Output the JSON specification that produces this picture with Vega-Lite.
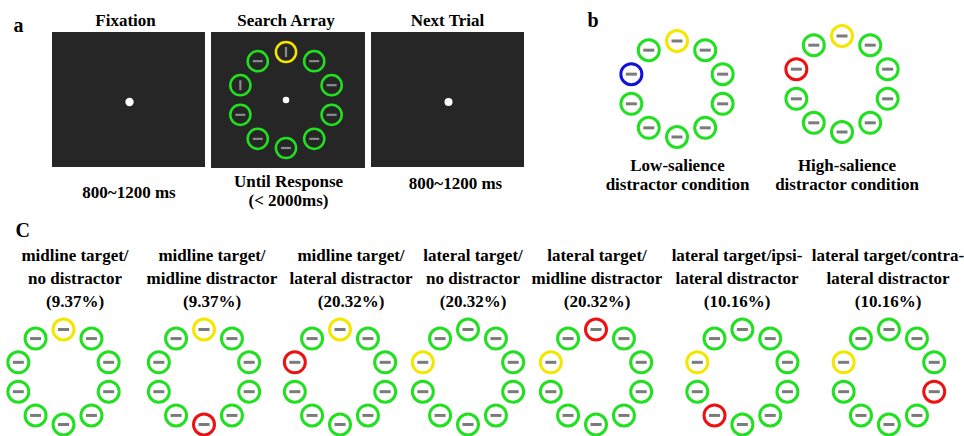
{
"$schema": "https://vega.github.io/schema/vega-lite/v6.json",
"padding": {"left": 1, "top": 10, "right": 0, "bottom": 0},
"background": "#ffffff",
"config": {
 "font": "Liberation Serif",
 "view": {"stroke": null},
 "axis": {"domain": false, "ticks": false, "labels": false, "grid": false, "titleFont": "Liberation Serif", "titleFontSize": 17, "titleFontWeight": "bold", "titleColor": "#000000", "titlePadding": 0},
 "title": {"font": "Liberation Serif", "fontSize": 17, "fontWeight": "bold", "color": "#000000", "frame": "group", "anchor": "middle"}
},
"datasets": {
 "items": [
  {"panel":"a1","pos":-1,"x":0,"y":0,"role":"fixation","bar":"none"},
  {"panel":"a3","pos":-1,"x":0,"y":0,"role":"fixation","bar":"none"},
  {"panel":"a2","pos":-1,"x":0,"y":0,"role":"fixation","bar":"none"},
  {"panel":"a2","pos":0,"x":0,"y":1,"role":"target","bar":"v"},
  {"panel":"a2","pos":1,"x":0.588,"y":0.809,"role":"nontarget","bar":"h"},
  {"panel":"a2","pos":2,"x":0.951,"y":0.309,"role":"nontarget","bar":"h"},
  {"panel":"a2","pos":3,"x":0.951,"y":-0.309,"role":"nontarget","bar":"h"},
  {"panel":"a2","pos":4,"x":0.588,"y":-0.809,"role":"nontarget","bar":"h"},
  {"panel":"a2","pos":5,"x":0,"y":-1,"role":"nontarget","bar":"h"},
  {"panel":"a2","pos":6,"x":-0.588,"y":-0.809,"role":"nontarget","bar":"h"},
  {"panel":"a2","pos":7,"x":-0.951,"y":-0.309,"role":"nontarget","bar":"h"},
  {"panel":"a2","pos":8,"x":-0.951,"y":0.309,"role":"nontarget","bar":"v"},
  {"panel":"a2","pos":9,"x":-0.588,"y":0.809,"role":"nontarget","bar":"h"},
  {"panel":"b1","pos":0,"x":0,"y":1,"role":"target","bar":"h"},
  {"panel":"b1","pos":1,"x":0.588,"y":0.809,"role":"nontarget","bar":"h"},
  {"panel":"b1","pos":2,"x":0.951,"y":0.309,"role":"nontarget","bar":"h"},
  {"panel":"b1","pos":3,"x":0.951,"y":-0.309,"role":"nontarget","bar":"h"},
  {"panel":"b1","pos":4,"x":0.588,"y":-0.809,"role":"nontarget","bar":"h"},
  {"panel":"b1","pos":5,"x":0,"y":-1,"role":"nontarget","bar":"h"},
  {"panel":"b1","pos":6,"x":-0.588,"y":-0.809,"role":"nontarget","bar":"h"},
  {"panel":"b1","pos":7,"x":-0.951,"y":-0.309,"role":"nontarget","bar":"h"},
  {"panel":"b1","pos":8,"x":-0.951,"y":0.309,"role":"lowsal","bar":"h"},
  {"panel":"b1","pos":9,"x":-0.588,"y":0.809,"role":"nontarget","bar":"h"},
  {"panel":"b2","pos":0,"x":0,"y":1,"role":"target","bar":"h"},
  {"panel":"b2","pos":1,"x":0.588,"y":0.809,"role":"nontarget","bar":"h"},
  {"panel":"b2","pos":2,"x":0.951,"y":0.309,"role":"nontarget","bar":"h"},
  {"panel":"b2","pos":3,"x":0.951,"y":-0.309,"role":"nontarget","bar":"h"},
  {"panel":"b2","pos":4,"x":0.588,"y":-0.809,"role":"nontarget","bar":"h"},
  {"panel":"b2","pos":5,"x":0,"y":-1,"role":"nontarget","bar":"h"},
  {"panel":"b2","pos":6,"x":-0.588,"y":-0.809,"role":"nontarget","bar":"h"},
  {"panel":"b2","pos":7,"x":-0.951,"y":-0.309,"role":"nontarget","bar":"h"},
  {"panel":"b2","pos":8,"x":-0.951,"y":0.309,"role":"distractor","bar":"h"},
  {"panel":"b2","pos":9,"x":-0.588,"y":0.809,"role":"nontarget","bar":"h"},
  {"panel":"c1","pos":0,"x":0,"y":1,"role":"target","bar":"h"},
  {"panel":"c1","pos":1,"x":0.588,"y":0.809,"role":"nontarget","bar":"h"},
  {"panel":"c1","pos":2,"x":0.951,"y":0.309,"role":"nontarget","bar":"h"},
  {"panel":"c1","pos":3,"x":0.951,"y":-0.309,"role":"nontarget","bar":"h"},
  {"panel":"c1","pos":4,"x":0.588,"y":-0.809,"role":"nontarget","bar":"h"},
  {"panel":"c1","pos":5,"x":0,"y":-1,"role":"nontarget","bar":"h"},
  {"panel":"c1","pos":6,"x":-0.588,"y":-0.809,"role":"nontarget","bar":"h"},
  {"panel":"c1","pos":7,"x":-0.951,"y":-0.309,"role":"nontarget","bar":"h"},
  {"panel":"c1","pos":8,"x":-0.951,"y":0.309,"role":"nontarget","bar":"h"},
  {"panel":"c1","pos":9,"x":-0.588,"y":0.809,"role":"nontarget","bar":"h"},
  {"panel":"c2","pos":0,"x":0,"y":1,"role":"target","bar":"h"},
  {"panel":"c2","pos":1,"x":0.588,"y":0.809,"role":"nontarget","bar":"h"},
  {"panel":"c2","pos":2,"x":0.951,"y":0.309,"role":"nontarget","bar":"h"},
  {"panel":"c2","pos":3,"x":0.951,"y":-0.309,"role":"nontarget","bar":"h"},
  {"panel":"c2","pos":4,"x":0.588,"y":-0.809,"role":"nontarget","bar":"h"},
  {"panel":"c2","pos":5,"x":0,"y":-1,"role":"distractor","bar":"h"},
  {"panel":"c2","pos":6,"x":-0.588,"y":-0.809,"role":"nontarget","bar":"h"},
  {"panel":"c2","pos":7,"x":-0.951,"y":-0.309,"role":"nontarget","bar":"h"},
  {"panel":"c2","pos":8,"x":-0.951,"y":0.309,"role":"nontarget","bar":"h"},
  {"panel":"c2","pos":9,"x":-0.588,"y":0.809,"role":"nontarget","bar":"h"},
  {"panel":"c3","pos":0,"x":0,"y":1,"role":"target","bar":"h"},
  {"panel":"c3","pos":1,"x":0.588,"y":0.809,"role":"nontarget","bar":"h"},
  {"panel":"c3","pos":2,"x":0.951,"y":0.309,"role":"nontarget","bar":"h"},
  {"panel":"c3","pos":3,"x":0.951,"y":-0.309,"role":"nontarget","bar":"h"},
  {"panel":"c3","pos":4,"x":0.588,"y":-0.809,"role":"nontarget","bar":"h"},
  {"panel":"c3","pos":5,"x":0,"y":-1,"role":"nontarget","bar":"h"},
  {"panel":"c3","pos":6,"x":-0.588,"y":-0.809,"role":"nontarget","bar":"h"},
  {"panel":"c3","pos":7,"x":-0.951,"y":-0.309,"role":"nontarget","bar":"h"},
  {"panel":"c3","pos":8,"x":-0.951,"y":0.309,"role":"distractor","bar":"h"},
  {"panel":"c3","pos":9,"x":-0.588,"y":0.809,"role":"nontarget","bar":"h"},
  {"panel":"c4","pos":0,"x":0,"y":1,"role":"nontarget","bar":"h"},
  {"panel":"c4","pos":1,"x":0.588,"y":0.809,"role":"nontarget","bar":"h"},
  {"panel":"c4","pos":2,"x":0.951,"y":0.309,"role":"nontarget","bar":"h"},
  {"panel":"c4","pos":3,"x":0.951,"y":-0.309,"role":"nontarget","bar":"h"},
  {"panel":"c4","pos":4,"x":0.588,"y":-0.809,"role":"nontarget","bar":"h"},
  {"panel":"c4","pos":5,"x":0,"y":-1,"role":"nontarget","bar":"h"},
  {"panel":"c4","pos":6,"x":-0.588,"y":-0.809,"role":"nontarget","bar":"h"},
  {"panel":"c4","pos":7,"x":-0.951,"y":-0.309,"role":"nontarget","bar":"h"},
  {"panel":"c4","pos":8,"x":-0.951,"y":0.309,"role":"target","bar":"h"},
  {"panel":"c4","pos":9,"x":-0.588,"y":0.809,"role":"nontarget","bar":"h"},
  {"panel":"c5","pos":0,"x":0,"y":1,"role":"distractor","bar":"h"},
  {"panel":"c5","pos":1,"x":0.588,"y":0.809,"role":"nontarget","bar":"h"},
  {"panel":"c5","pos":2,"x":0.951,"y":0.309,"role":"nontarget","bar":"h"},
  {"panel":"c5","pos":3,"x":0.951,"y":-0.309,"role":"nontarget","bar":"h"},
  {"panel":"c5","pos":4,"x":0.588,"y":-0.809,"role":"nontarget","bar":"h"},
  {"panel":"c5","pos":5,"x":0,"y":-1,"role":"nontarget","bar":"h"},
  {"panel":"c5","pos":6,"x":-0.588,"y":-0.809,"role":"nontarget","bar":"h"},
  {"panel":"c5","pos":7,"x":-0.951,"y":-0.309,"role":"nontarget","bar":"h"},
  {"panel":"c5","pos":8,"x":-0.951,"y":0.309,"role":"target","bar":"h"},
  {"panel":"c5","pos":9,"x":-0.588,"y":0.809,"role":"nontarget","bar":"h"},
  {"panel":"c6","pos":0,"x":0,"y":1,"role":"nontarget","bar":"h"},
  {"panel":"c6","pos":1,"x":0.588,"y":0.809,"role":"nontarget","bar":"h"},
  {"panel":"c6","pos":2,"x":0.951,"y":0.309,"role":"nontarget","bar":"h"},
  {"panel":"c6","pos":3,"x":0.951,"y":-0.309,"role":"nontarget","bar":"h"},
  {"panel":"c6","pos":4,"x":0.588,"y":-0.809,"role":"nontarget","bar":"h"},
  {"panel":"c6","pos":5,"x":0,"y":-1,"role":"nontarget","bar":"h"},
  {"panel":"c6","pos":6,"x":-0.588,"y":-0.809,"role":"distractor","bar":"h"},
  {"panel":"c6","pos":7,"x":-0.951,"y":-0.309,"role":"nontarget","bar":"h"},
  {"panel":"c6","pos":8,"x":-0.951,"y":0.309,"role":"target","bar":"h"},
  {"panel":"c6","pos":9,"x":-0.588,"y":0.809,"role":"nontarget","bar":"h"},
  {"panel":"c7","pos":0,"x":0,"y":1,"role":"nontarget","bar":"h"},
  {"panel":"c7","pos":1,"x":0.588,"y":0.809,"role":"nontarget","bar":"h"},
  {"panel":"c7","pos":2,"x":0.951,"y":0.309,"role":"nontarget","bar":"h"},
  {"panel":"c7","pos":3,"x":0.951,"y":-0.309,"role":"distractor","bar":"h"},
  {"panel":"c7","pos":4,"x":0.588,"y":-0.809,"role":"nontarget","bar":"h"},
  {"panel":"c7","pos":5,"x":0,"y":-1,"role":"nontarget","bar":"h"},
  {"panel":"c7","pos":6,"x":-0.588,"y":-0.809,"role":"nontarget","bar":"h"},
  {"panel":"c7","pos":7,"x":-0.951,"y":-0.309,"role":"nontarget","bar":"h"},
  {"panel":"c7","pos":8,"x":-0.951,"y":0.309,"role":"target","bar":"h"},
  {"panel":"c7","pos":9,"x":-0.588,"y":0.809,"role":"nontarget","bar":"h"},
  {"panel":"labels","pos":-1,"x":0,"y":0,"role":"none","bar":"none"}
 ]
},
"columns": 7,
"align": "each",
"bounds": "flush",
"spacing": {"column": 6, "row": 149},
"concat": [
 {"width": 153, "height": 135, "view": {"fill": "#262626"},
  "title": {"text": "Fixation", "offset": 2.5, "dx": -3, "frame": "group"},
  "data": {"name": "items"}, "transform": [{"filter": "datum.panel === 'a1'"}],
  "mark": {"type": "point", "shape": "circle", "filled": true, "size": 70, "color": "#ffffff", "opacity": 1},
  "encoding": {
   "x": {"field": "x", "type": "quantitative", "scale": {"domain": [-1.6146, 1.5729], "nice": false, "zero": false}, "axis": {"title": "800~1200 ms", "titleY": 30, "titleBaseline": "alphabetic"}},
   "y": {"field": "y", "type": "quantitative", "scale": {"domain": [-1.3542, 1.4583], "nice": false, "zero": false}, "axis": null}
  }},
 {"width": 154, "height": 136, "view": {"fill": "#262626"},
  "title": {"text": "Search Array", "offset": 2.5, "dx": -2, "frame": "group"},
  "data": {"name": "items"}, "transform": [{"filter": "datum.panel === 'a2'"}],
  "encoding": {
   "x": {"field": "x", "type": "quantitative", "scale": {"domain": [-1.5625, 1.6458], "nice": false, "zero": false}, "axis": {"title": ["Until Response", "(< 2000ms)"], "titleY": 18, "titleLineHeight": 19, "titleBaseline": "alphabetic"}},
   "y": {"field": "y", "type": "quantitative", "scale": {"domain": [-1.4167, 1.4167], "nice": false, "zero": false}, "axis": null}
  },
  "layer": [
   {"transform": [{"filter": "datum.role !== 'fixation'"}],
    "mark": {"type": "point", "shape": "circle", "filled": false, "size": 408, "strokeWidth": 2.5, "opacity": 1},
    "encoding": {"color": {"field": "role", "type": "nominal", "scale": {"domain": ["target", "nontarget", "distractor", "lowsal"], "range": ["#f5e600", "#20e020", "#ee1111", "#1111dd"]}, "legend": null}}},
   {"transform": [{"filter": "datum.role !== 'fixation'"}],
    "mark": {"type": "point", "shape": "stroke", "size": 100, "strokeWidth": 2.2, "color": "#8a8a8a", "opacity": 1},
    "encoding": {"angle": {"condition": {"test": "datum.bar === 'v'", "value": 90}, "value": 0}}},
   {"transform": [{"filter": "datum.role === 'fixation'"}],
    "mark": {"type": "point", "shape": "circle", "filled": true, "size": 42, "color": "#ffffff", "opacity": 1}}
  ]},
 {"width": 153, "height": 135, "view": {"fill": "#262626"},
  "title": {"text": "Next Trial", "offset": 2.5, "frame": "group"},
  "data": {"name": "items"}, "transform": [{"filter": "datum.panel === 'a3'"}],
  "mark": {"type": "point", "shape": "circle", "filled": true, "size": 64, "color": "#ffffff", "opacity": 1},
  "encoding": {
   "x": {"field": "x", "type": "quantitative", "scale": {"domain": [-1.6146, 1.5729], "nice": false, "zero": false}, "axis": {"title": "800~1200 ms", "titleY": 21, "titleX": 84, "titleBaseline": "alphabetic"}},
   "y": {"field": "y", "type": "quantitative", "scale": {"domain": [-1.3542, 1.4583], "nice": false, "zero": false}, "axis": null}
  }},
 {"width": 207, "height": 120,
  "data": {"name": "items"}, "transform": [{"filter": "datum.panel === 'b1'"}],
  "encoding": {
   "x": {"field": "x", "type": "quantitative", "scale": {"domain": [-3.0625, 1.25], "nice": false, "zero": false}, "axis": {"title": ["Low-salience", "distractor condition"], "titleY": 18, "titleX": 147, "titleLineHeight": 19, "titleBaseline": "alphabetic"}},
   "y": {"field": "y", "type": "quantitative", "scale": {"domain": [-1.3125, 1.1875], "nice": false, "zero": false}, "axis": {"title": "b", "titleAngle": 0, "titleAlign": "left", "titleBaseline": "alphabetic", "titleX": 57, "titleY": -6, "titleFontSize": 20}}
  },
  "layer": [
   {"mark": {"type": "point", "shape": "circle", "filled": false, "size": 441, "strokeWidth": 3, "opacity": 1},
    "encoding": {"color": {"field": "role", "type": "nominal", "scale": {"domain": ["target", "nontarget", "distractor", "lowsal"], "range": ["#f5e600", "#20e020", "#ee1111", "#1111dd"]}, "legend": null}}},
   {"mark": {"type": "point", "shape": "stroke", "size": 121, "strokeWidth": 3, "color": "#7b7b7b", "opacity": 1}}
  ]},
 {"width": 159, "height": 120,
  "data": {"name": "items"}, "transform": [{"filter": "datum.panel === 'b2'"}],
  "encoding": {
   "x": {"field": "x", "type": "quantitative", "scale": {"domain": [-2.0625, 1.25], "nice": false, "zero": false}, "axis": {"title": ["High-salience", "distractor condition"], "titleY": 18, "titleX": 103.5, "titleLineHeight": 19, "titleBaseline": "alphabetic"}},
   "y": {"field": "y", "type": "quantitative", "scale": {"domain": [-1.4167, 1.0833], "nice": false, "zero": false}, "axis": null}
  },
  "layer": [
   {"mark": {"type": "point", "shape": "circle", "filled": false, "size": 441, "strokeWidth": 3, "opacity": 1},
    "encoding": {"color": {"field": "role", "type": "nominal", "scale": {"domain": ["target", "nontarget", "distractor", "lowsal"], "range": ["#f5e600", "#20e020", "#ee1111", "#1111dd"]}, "legend": null}}},
   {"mark": {"type": "point", "shape": "stroke", "size": 121, "strokeWidth": 3, "color": "#7b7b7b", "opacity": 1}}
  ]},
 {"width": 1, "height": 1,
  "data": {"name": "items"}, "transform": [{"filter": "datum.panel === 'labels'"}],
  "mark": {"type": "point", "opacity": 0},
  "encoding": {
   "x": {"field": "x", "type": "quantitative", "axis": {"title": "C", "titleAngle": 0, "titleAlign": "left", "titleBaseline": "alphabetic", "titleX": -893, "titleY": 203, "titleFontSize": 20}},
   "y": {"field": "y", "type": "quantitative", "axis": {"title": "a", "titleAngle": 0, "titleAlign": "left", "titleBaseline": "alphabetic", "titleX": -895, "titleY": -1, "titleFontSize": 20}}
  }},
 {"width": 1, "height": 1, "data": {"values": []}, "mark": "point"},
 {"width": 153, "height": 120,
  "title": {"text": ["midline target/", "no distractor", "(9.37%)"], "offset": 2, "lineHeight": 23, "dx": -53.5, "frame": "group"},
  "data": {"name": "items"}, "transform": [{"filter": "datum.panel === 'c1'"}],
  "encoding": {
   "x": {"field": "x", "type": "quantitative", "scale": {"domain": [-0.2421, 2.9789], "nice": false, "zero": false}, "axis": null},
   "y": {"field": "y", "type": "quantitative", "scale": {"domain": [-1.2632, 1.2632], "nice": false, "zero": false}, "axis": null}
  },
  "layer": [
   {"mark": {"type": "point", "shape": "circle", "filled": false, "size": 441, "strokeWidth": 3, "opacity": 1},
    "encoding": {"color": {"field": "role", "type": "nominal", "scale": {"domain": ["target", "nontarget", "distractor", "lowsal"], "range": ["#f5e600", "#20e020", "#ee1111", "#1111dd"]}, "legend": null}}},
   {"mark": {"type": "point", "shape": "stroke", "size": 121, "strokeWidth": 3, "color": "#7b7b7b", "opacity": 1}}
  ]},
 {"width": 154, "height": 120,
  "title": {"text": ["midline target/", "midline distractor", "(9.37%)"], "offset": 2, "lineHeight": 23, "dx": -76, "frame": "group"},
  "data": {"name": "items"}, "transform": [{"filter": "datum.panel === 'c2'"}],
  "encoding": {
   "x": {"field": "x", "type": "quantitative", "scale": {"domain": [0.1474, 3.3895], "nice": false, "zero": false}, "axis": null},
   "y": {"field": "y", "type": "quantitative", "scale": {"domain": [-1.2632, 1.2632], "nice": false, "zero": false}, "axis": null}
  },
  "layer": [
   {"mark": {"type": "point", "shape": "circle", "filled": false, "size": 441, "strokeWidth": 3, "opacity": 1},
    "encoding": {"color": {"field": "role", "type": "nominal", "scale": {"domain": ["target", "nontarget", "distractor", "lowsal"], "range": ["#f5e600", "#20e020", "#ee1111", "#1111dd"]}, "legend": null}}},
   {"mark": {"type": "point", "shape": "stroke", "size": 121, "strokeWidth": 3, "color": "#7b7b7b", "opacity": 1}}
  ]},
 {"width": 153, "height": 120,
  "title": {"text": ["midline target/", "lateral distractor", "(20.32%)"], "offset": 2, "lineHeight": 23, "dx": -96.5, "frame": "group"},
  "data": {"name": "items"}, "transform": [{"filter": "datum.panel === 'c3'"}],
  "encoding": {
   "x": {"field": "x", "type": "quantitative", "scale": {"domain": [0.6526, 3.8737], "nice": false, "zero": false}, "axis": null},
   "y": {"field": "y", "type": "quantitative", "scale": {"domain": [-1.2632, 1.2632], "nice": false, "zero": false}, "axis": null}
  },
  "layer": [
   {"mark": {"type": "point", "shape": "circle", "filled": false, "size": 441, "strokeWidth": 3, "opacity": 1},
    "encoding": {"color": {"field": "role", "type": "nominal", "scale": {"domain": ["target", "nontarget", "distractor", "lowsal"], "range": ["#f5e600", "#20e020", "#ee1111", "#1111dd"]}, "legend": null}}},
   {"mark": {"type": "point", "shape": "stroke", "size": 121, "strokeWidth": 3, "color": "#7b7b7b", "opacity": 1}}
  ]},
 {"width": 207, "height": 120,
  "title": {"text": ["lateral target/", "no distractor", "(20.32%)"], "offset": 2, "lineHeight": 23, "dx": -160.5, "frame": "group"},
  "data": {"name": "items"}, "transform": [{"filter": "datum.panel === 'c4'"}],
  "encoding": {
   "x": {"field": "x", "type": "quantitative", "scale": {"domain": [1.3053, 5.6632], "nice": false, "zero": false}, "axis": null},
   "y": {"field": "y", "type": "quantitative", "scale": {"domain": [-1.2632, 1.2632], "nice": false, "zero": false}, "axis": null}
  },
  "layer": [
   {"mark": {"type": "point", "shape": "circle", "filled": false, "size": 441, "strokeWidth": 3, "opacity": 1},
    "encoding": {"color": {"field": "role", "type": "nominal", "scale": {"domain": ["target", "nontarget", "distractor", "lowsal"], "range": ["#f5e600", "#20e020", "#ee1111", "#1111dd"]}, "legend": null}}},
   {"mark": {"type": "point", "shape": "stroke", "size": 121, "strokeWidth": 3, "color": "#7b7b7b", "opacity": 1}}
  ]},
 {"width": 159, "height": 120,
  "title": {"text": ["lateral target/", "midline distractor", "(20.32%)"], "offset": 2, "lineHeight": 23, "dx": -225.5, "frame": "group"},
  "data": {"name": "items"}, "transform": [{"filter": "datum.panel === 'c5'"}],
  "encoding": {
   "x": {"field": "x", "type": "quantitative", "scale": {"domain": [3.0947, 6.4421], "nice": false, "zero": false}, "axis": null},
   "y": {"field": "y", "type": "quantitative", "scale": {"domain": [-1.2632, 1.2632], "nice": false, "zero": false}, "axis": null}
  },
  "layer": [
   {"mark": {"type": "point", "shape": "circle", "filled": false, "size": 441, "strokeWidth": 3, "opacity": 1},
    "encoding": {"color": {"field": "role", "type": "nominal", "scale": {"domain": ["target", "nontarget", "distractor", "lowsal"], "range": ["#f5e600", "#20e020", "#ee1111", "#1111dd"]}, "legend": null}}},
   {"mark": {"type": "point", "shape": "stroke", "size": 121, "strokeWidth": 3, "color": "#7b7b7b", "opacity": 1}}
  ]},
 {"width": 1, "height": 120,
  "title": {"text": ["lateral target/ipsi-", "lateral distractor", "(10.16%)"], "offset": 2, "lineHeight": 23, "dx": -171.5, "frame": "group"},
  "data": {"name": "items"}, "transform": [{"filter": "datum.panel === 'c6'"}],
  "encoding": {
   "x": {"field": "x", "type": "quantitative", "scale": {"domain": [3.4947, 3.5158], "nice": false, "zero": false}, "axis": null},
   "y": {"field": "y", "type": "quantitative", "scale": {"domain": [-1.2632, 1.2632], "nice": false, "zero": false}, "axis": null}
  },
  "layer": [
   {"mark": {"type": "point", "shape": "circle", "filled": false, "size": 441, "strokeWidth": 3, "opacity": 1},
    "encoding": {"color": {"field": "role", "type": "nominal", "scale": {"domain": ["target", "nontarget", "distractor", "lowsal"], "range": ["#f5e600", "#20e020", "#ee1111", "#1111dd"]}, "legend": null}}},
   {"mark": {"type": "point", "shape": "stroke", "size": 121, "strokeWidth": 3, "color": "#7b7b7b", "opacity": 1}}
  ]},
 {"width": 1, "height": 120,
  "title": {"text": ["lateral target/contra-", "lateral distractor", "(10.16%)"], "offset": 2, "lineHeight": 23, "dx": -27.5, "frame": "group"},
  "data": {"name": "items"}, "transform": [{"filter": "datum.panel === 'c7'"}],
  "encoding": {
   "x": {"field": "x", "type": "quantitative", "scale": {"domain": [0.5474, 0.5684], "nice": false, "zero": false}, "axis": null},
   "y": {"field": "y", "type": "quantitative", "scale": {"domain": [-1.2632, 1.2632], "nice": false, "zero": false}, "axis": null}
  },
  "layer": [
   {"mark": {"type": "point", "shape": "circle", "filled": false, "size": 441, "strokeWidth": 3, "opacity": 1},
    "encoding": {"color": {"field": "role", "type": "nominal", "scale": {"domain": ["target", "nontarget", "distractor", "lowsal"], "range": ["#f5e600", "#20e020", "#ee1111", "#1111dd"]}, "legend": null}}},
   {"mark": {"type": "point", "shape": "stroke", "size": 121, "strokeWidth": 3, "color": "#7b7b7b", "opacity": 1}}
  ]}
]
}
